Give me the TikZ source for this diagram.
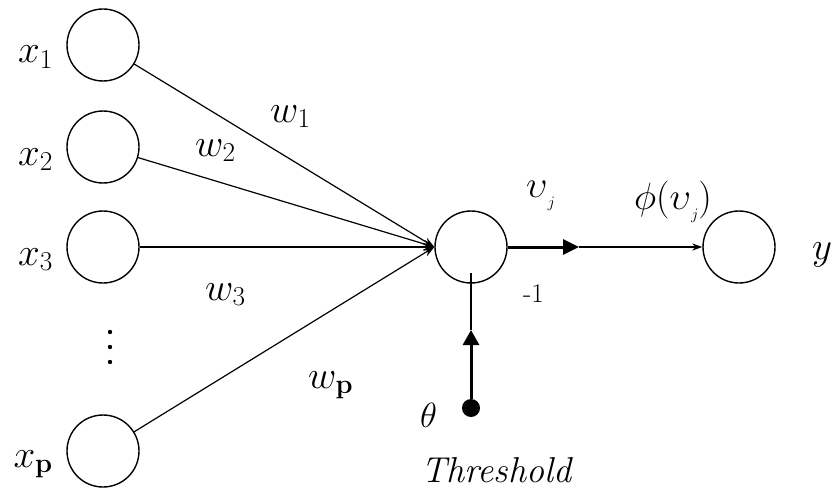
\documentclass[tikz,border=0pt]{standalone}
\usepackage{fix-cm}
\usetikzlibrary{arrows.meta}
\newcommand{\subj}{\raisebox{-10pt}{\fontsize{16}{16}\selectfont$j$}}
\begin{document}
\begin{tikzpicture}[x=1pt,y=-1pt,
  neuron/.style={circle, draw, line width=1.4pt, minimum size=72pt, inner sep=0pt},
  lbl/.style={anchor=base west, inner sep=0pt},
  lblr/.style={anchor=base east, inner sep=0pt},
  mth/.style={font=\fontsize{39}{41}\selectfont},
  tim/.style={font=\fontsize{38}{40}\selectfont},
  inarrow/.style={line width=1.2pt, -{Stealth[length=11pt,width=8pt]}},
  thickarrow/.style={line width=3pt, -{Triangle[length=16pt,width=15pt]}}]
\useasboundingbox (0,0) rectangle (837,492);

% input neurons
\node[neuron] (x1) at (103,45) {};
\node[neuron] (x2) at (103,147) {};
\node[neuron] (x3) at (103,247) {};
\node[neuron] (xp) at (103,451) {};
% summing neuron and output neuron
\node[neuron] (n) at (471,247) {};
\node[neuron] (out) at (739,247) {};

% input labels
\node[lblr,mth] (lx1) at (53,63) {$x_1$};
\node[lblr,mth] (lx2) at (53,165) {$x_2$};
\node[lblr,mth] (lx3) at (53,265) {$x_3$};
\node[lblr,mth] (lxp) at (53,467) {$x_{\mathbf{p}}$};

% vertical dots
\fill (110,332) circle (2.2pt) (110,347) circle (2.2pt) (110,362) circle (2.2pt);

% input connectors
\draw[inarrow] (x1) -- (n.west);
\draw[inarrow] (x2) -- (n.west);
\draw[inarrow, line width=1.8pt] (x3) -- (n.west);
\draw[inarrow] (xp) -- (n.west);

% weight labels
\node[lbl,mth] (w1) at (270,122) {$w_1$};
\node[lbl,mth] (w2) at (195,156) {$w_2$};
\node[lbl,mth] (w3) at (205,300) {$w_3$};
\node[lbl,mth] (wp) at (308,388) {$w_{\mathbf{p}}$};

% output connector
\coordinate (mid) at (579,247);
\draw[line width=1.3pt, -{Stealth[length=10pt,width=7pt]}] (mid) -- (out.west);
\draw[thickarrow] (n.east) -- (mid);

% threshold input
\node[circle, fill, inner sep=0pt, minimum size=18pt] (dot) at (471,408) {};
\coordinate (thtop) at (471,273);
\coordinate (thmid) at (471,330);
\draw[line width=1.3pt] (thmid) -- (thtop);
\draw[thickarrow, -{Triangle[length=15pt,width=16pt]}] (dot) -- (thmid);

% labels around summing node
\node[lbl,tim] (vj) at (526,197) {$\upsilon$\subj};
\node[lbl,tim] (phi) at (634,209) {$\phi(\upsilon$\subj$)$};
\node[lbl,font=\fontsize{27}{29}\selectfont] (m1) at (523,302) {-1};
\node[lbl,font=\fontsize{35}{38}\selectfont] (th) at (420,427) {$\theta$};
\node[lbl,font=\fontsize{36}{38}\selectfont\itshape] (thr) at (421,482) {Threshold};
\node[lbl,mth] (ly) at (812,259) {$y$};
\end{tikzpicture}
\end{document}
